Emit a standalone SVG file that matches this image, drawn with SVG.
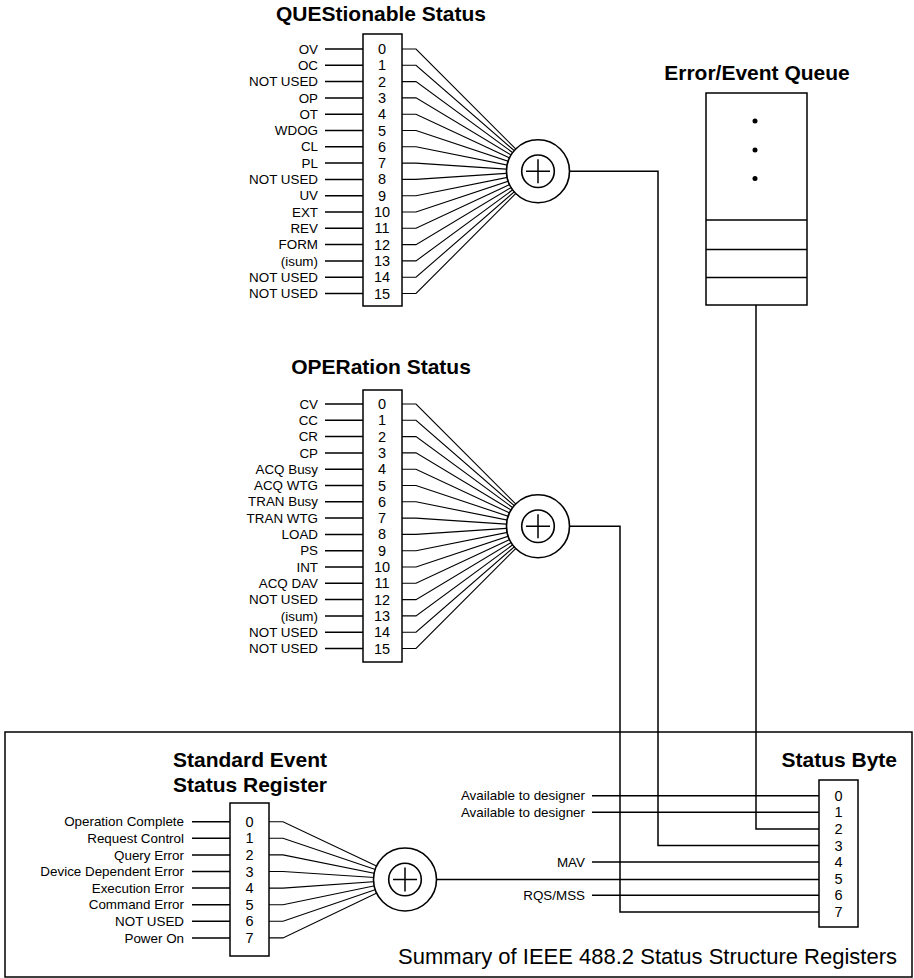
<svg xmlns="http://www.w3.org/2000/svg" width="914" height="978" viewBox="0 0 914 978">
<style>
.t{font-family:"Liberation Sans",Arial,sans-serif;font-weight:bold;font-size:21px;fill:#000}
.l{font-family:"Liberation Sans",Arial,sans-serif;font-size:13.4px;fill:#000;text-anchor:end}
.n{font-family:"Liberation Sans",Arial,sans-serif;font-size:14.5px;fill:#000;text-anchor:middle}
.cap{font-family:"Liberation Sans",Arial,sans-serif;font-size:22px;fill:#000;text-anchor:end}
.box{fill:#fff;stroke:#000;stroke-width:1.5}
.w{fill:none;stroke:#000;stroke-width:1.5}
.f{fill:none;stroke:#000;stroke-width:1.1}
.c{fill:#fff;stroke:#000;stroke-width:1.6}
</style>
<defs>
<g id="sum">
<circle r="31.5" class="c"/>
<circle r="16.3" class="c"/>
<path d="M-12 0H12M0 -12V12" class="w"/>
</g>
</defs>
<rect x="5" y="732" width="907" height="245" class="box" fill="none"/>
<text class="cap" x="897" y="964">Summary of IEEE 488.2 Status Structure Registers</text>

<g id="connectors">
<path class="w" d="M569 171.25H658V845.5H819"/>
<path class="w" d="M569 526.25H620V911.9H819"/>
<path class="w" d="M756 305V828.9H819"/>
<path class="w" d="M436 879.5H819"/>
<path class="w" d="M592 795.7H819M592 812.3H819M592 862.1H819M592 895.3H819"/>
</g>

<g id="questionable">
<text class="t" x="381" y="21" text-anchor="middle">QUEStionable Status</text>
<g class="w">
<path d="M325 49H363M325 65.3H363M325 81.6H363M325 97.9H363M325 114.2H363M325 130.5H363M325 146.8H363M325 163.1H363M325 179.4H363M325 195.7H363M325 212H363M325 228.3H363M325 244.6H363M325 260.9H363M325 277.2H363M325 293.5H363"/>
</g>
<path class="f" d="M402 49H416L538 171.25M402 65.3H416L538 171.25M402 81.6H416L538 171.25M402 97.9H416L538 171.25M402 114.2H416L538 171.25M402 130.5H416L538 171.25M402 146.8H416L538 171.25M402 163.1H416L538 171.25M402 179.4H416L538 171.25M402 195.7H416L538 171.25M402 212H416L538 171.25M402 228.3H416L538 171.25M402 244.6H416L538 171.25M402 260.9H416L538 171.25M402 277.2H416L538 171.25M402 293.5H416L538 171.25"/>
<rect x="363" y="34" width="39" height="272" class="box"/>
<g class="l">
<text x="318" y="53.6">OV</text><text x="318" y="69.9">OC</text><text x="318" y="86.2">NOT USED</text><text x="318" y="102.5">OP</text><text x="318" y="118.8">OT</text><text x="318" y="135.1">WDOG</text><text x="318" y="151.4">CL</text><text x="318" y="167.7">PL</text><text x="318" y="184">NOT USED</text><text x="318" y="200.3">UV</text><text x="318" y="216.6">EXT</text><text x="318" y="232.9">REV</text><text x="318" y="249.2">FORM</text><text x="318" y="265.5">(isum)</text><text x="318" y="281.8">NOT USED</text><text x="318" y="298.1">NOT USED</text>
</g>
<g class="n">
<text x="382" y="54">0</text><text x="382" y="70.3">1</text><text x="382" y="86.6">2</text><text x="382" y="102.9">3</text><text x="382" y="119.2">4</text><text x="382" y="135.5">5</text><text x="382" y="151.8">6</text><text x="382" y="168.1">7</text><text x="382" y="184.4">8</text><text x="382" y="200.7">9</text><text x="382" y="217">10</text><text x="382" y="233.3">11</text><text x="382" y="249.6">12</text><text x="382" y="265.9">13</text><text x="382" y="282.2">14</text><text x="382" y="298.5">15</text>
</g>
<use href="#sum" x="538" y="171.25"/>
</g>

<g id="operation">
<text class="t" x="381" y="373.5" text-anchor="middle">OPERation Status</text>
<path class="w" d="M325 404H363M325 420.3H363M325 436.6H363M325 452.9H363M325 469.2H363M325 485.5H363M325 501.8H363M325 518.1H363M325 534.4H363M325 550.7H363M325 567H363M325 583.3H363M325 599.6H363M325 615.9H363M325 632.2H363M325 648.5H363"/>
<path class="f" d="M402 404H416L538 526.25M402 420.3H416L538 526.25M402 436.6H416L538 526.25M402 452.9H416L538 526.25M402 469.2H416L538 526.25M402 485.5H416L538 526.25M402 501.8H416L538 526.25M402 518.1H416L538 526.25M402 534.4H416L538 526.25M402 550.7H416L538 526.25M402 567H416L538 526.25M402 583.3H416L538 526.25M402 599.6H416L538 526.25M402 615.9H416L538 526.25M402 632.2H416L538 526.25M402 648.5H416L538 526.25"/>
<rect x="363" y="390" width="39" height="272" class="box"/>
<g class="l">
<text x="318" y="408.6">CV</text><text x="318" y="424.9">CC</text><text x="318" y="441.2">CR</text><text x="318" y="457.5">CP</text><text x="318" y="473.8">ACQ Busy</text><text x="318" y="490.1">ACQ WTG</text><text x="318" y="506.4">TRAN Busy</text><text x="318" y="522.7">TRAN WTG</text><text x="318" y="539">LOAD</text><text x="318" y="555.3">PS</text><text x="318" y="571.6">INT</text><text x="318" y="587.9">ACQ DAV</text><text x="318" y="604.2">NOT USED</text><text x="318" y="620.5">(isum)</text><text x="318" y="636.8">NOT USED</text><text x="318" y="653.1">NOT USED</text>
</g>
<g class="n">
<text x="382" y="409">0</text><text x="382" y="425.3">1</text><text x="382" y="441.6">2</text><text x="382" y="457.9">3</text><text x="382" y="474.2">4</text><text x="382" y="490.5">5</text><text x="382" y="506.8">6</text><text x="382" y="523.1">7</text><text x="382" y="539.4">8</text><text x="382" y="555.7">9</text><text x="382" y="572">10</text><text x="382" y="588.3">11</text><text x="382" y="604.6">12</text><text x="382" y="620.9">13</text><text x="382" y="637.2">14</text><text x="382" y="653.5">15</text>
</g>
<use href="#sum" x="538" y="526.25"/>
</g>

<g id="error-queue">
<text class="t" x="757" y="80" text-anchor="middle">Error/Event Queue</text>
<rect x="706" y="93" width="101" height="212" class="box"/>
<path class="w" d="M706 220H807M706 249.5H807M706 277.5H807"/>
<circle cx="755" cy="121" r="2.5"/><circle cx="755" cy="150" r="2.5"/><circle cx="755" cy="178.5" r="2.5"/>
</g>

<g id="standard-event">
<text class="t" x="250" y="767" text-anchor="middle">Standard Event</text>
<text class="t" x="250" y="792" text-anchor="middle">Status Register</text>
<path class="w" d="M192 821.7H230M192 838.3H230M192 854.9H230M192 871.5H230M192 888.1H230M192 904.7H230M192 921.3H230M192 937.9H230"/>
<path class="f" d="M269 821.7H283L405 879.5M269 838.3H283L405 879.5M269 854.9H283L405 879.5M269 871.5H283L405 879.5M269 888.1H283L405 879.5M269 904.7H283L405 879.5M269 921.3H283L405 879.5M269 937.9H283L405 879.5"/>
<rect x="230" y="803" width="39" height="153" class="box"/>
<g class="l">
<text x="184" y="826.3">Operation Complete</text><text x="184" y="842.9">Request Control</text><text x="184" y="859.5">Query Error</text><text x="184" y="876.1">Device Dependent Error</text><text x="184" y="892.7">Execution Error</text><text x="184" y="909.3">Command Error</text><text x="184" y="925.9">NOT USED</text><text x="184" y="942.5">Power On</text>
</g>
<g class="n">
<text x="249.5" y="826.7">0</text><text x="249.5" y="843.3">1</text><text x="249.5" y="859.9">2</text><text x="249.5" y="876.5">3</text><text x="249.5" y="893.1">4</text><text x="249.5" y="909.7">5</text><text x="249.5" y="926.3">6</text><text x="249.5" y="942.9">7</text>
</g>
<use href="#sum" x="405" y="879.5"/>
</g>

<g id="status-byte">
<text class="t" x="897" y="767" text-anchor="end">Status Byte</text>
<rect x="819" y="780" width="39" height="147" class="box"/>
<g class="n">
<text x="838.5" y="800.7">0</text><text x="838.5" y="817.3">1</text><text x="838.5" y="833.9">2</text><text x="838.5" y="850.5">3</text><text x="838.5" y="867.1">4</text><text x="838.5" y="883.7">5</text><text x="838.5" y="900.3">6</text><text x="838.5" y="916.9">7</text>
</g>
<g class="l">
<text x="585" y="800.3">Available to designer</text><text x="585" y="816.9">Available to designer</text><text x="585" y="866.7">MAV</text><text x="585" y="899.9">RQS/MSS</text>
</g>
</g>
</svg>
